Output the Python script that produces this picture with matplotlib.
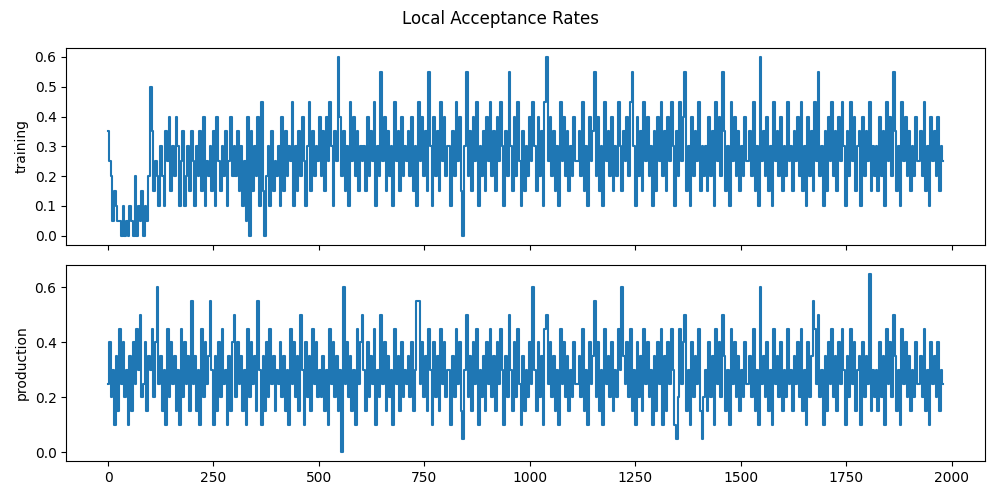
import matplotlib
matplotlib.use("Agg")
import matplotlib.pyplot as plt
import numpy as np

# values in units of 0.05 (a=10, b=11, c=12, d=13), sampled evenly over iterations 0..1980
training_codes = ("7541321102010210402130214" "a735426427583648625724637" "5264738254637285364725846"
    "4736251807364829304627354" "6283746592637485269374658" "4738596275c84736295847365"
    "6384759264b58374629573846" "5748362958473b62847395846" "6274958306b47385926473859"
    "4738596274b63849527364859" "6384729c58473629584736485" "5749362857b48362957483649"
    "6375849b62847395846273859" "4738596274958b36284759364" "6384729584b73629584736485"
    "5749362c57483629574836495" "6375849362847395b46273859" "4738596274958367284759364"
    "6384729584b73629584736485" "574936285748365")
production_codes = ("5846273958462738596a45837" "6948c5736294857362948573b" "5736294857b6273849562738a"
    "4857362948573b62738495736" "5847362958473a62847395846" "4736295847360c5847362958a"
    "6384759264a58374629573846" "574836bb58473962847395846" "6274958316a47385926473859"
    "4738596274a6384952736485c" "6384729a58473629584736485" "5749362857b48362957483649"
    "6c75849362847395846273859" "2738596214958a36284759314" "6384729584a73629584736485"
    "5749362c57483629574836495" "6375849362847b95a46273859" "473859627495836728475d364"
    "6384729584a73629584736485" "574936285748365")
last_iteration = 1980

def decode(s):
    return np.array([int(c, 16) * 0.05 for c in s])

training = decode(training_codes)
production = decode(production_codes)

fig, axes = plt.subplots(2, 1, figsize=(10, 5), dpi=100, sharex=True)
axes[0].plot(np.linspace(0, last_iteration, len(training)), training,
             color="#1f77b4", drawstyle="steps-mid")
axes[0].set_ylabel("training")
axes[1].plot(np.linspace(0, last_iteration, len(production)), production,
             color="#1f77b4", drawstyle="steps-mid")
axes[1].set_ylabel("production")
fig.suptitle("Local Acceptance Rates")
fig.tight_layout()
fig.savefig("out.png")
